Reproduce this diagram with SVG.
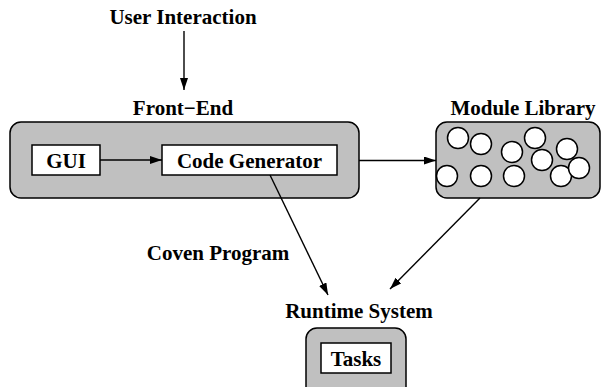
<svg xmlns="http://www.w3.org/2000/svg" width="602" height="387" viewBox="0 0 602 387">
<defs>
<marker id="ah" viewBox="0 0 12 8" refX="12" refY="4" markerWidth="12" markerHeight="8" markerUnits="userSpaceOnUse" orient="auto">
<path d="M0,0 L12,4 L0,8 Z" fill="#000"/>
</marker>
<style>
.lbl{font-family:"Liberation Serif","Times New Roman",serif;font-weight:bold;font-size:21px;fill:#000;text-anchor:middle}
.grp{fill:#c0c0c0;stroke:#000;stroke-width:1.5}
.box{fill:#fff;stroke:#000;stroke-width:1.5}
.mod{fill:#fff;stroke:#000;stroke-width:1.5}
.edge{fill:none;stroke:#000;stroke-width:1.4;marker-end:url(#ah)}
</style>
</defs>
<rect width="602" height="387" fill="#fff"/>
<text class="lbl" x="183" y="24">User Interaction</text>
<g id="front-end">
<text class="lbl" x="183" y="115">Front−End</text>
<rect class="grp" x="10" y="122" width="349" height="76" rx="11"/>
</g>
<g id="gui">
<rect class="box" x="32" y="145" width="68" height="30"/>
<text class="lbl" x="66" y="168">GUI</text>
</g>
<g id="code-generator">
<rect class="box" x="162" y="145" width="175" height="30"/>
<text class="lbl" x="249.5" y="168">Code Generator</text>
</g>
<g id="module-library">
<text class="lbl" x="523" y="115">Module Library</text>
<rect class="grp" x="436" y="122" width="164" height="76" rx="11"/>
<circle class="mod" cx="458" cy="138" r="10.5"/>
<circle class="mod" cx="481" cy="144" r="10.5"/>
<circle class="mod" cx="512" cy="152" r="10.5"/>
<circle class="mod" cx="535" cy="138" r="10.5"/>
<circle class="mod" cx="542" cy="160" r="10.5"/>
<circle class="mod" cx="567" cy="149" r="10.5"/>
<circle class="mod" cx="561" cy="176" r="10.5"/>
<circle class="mod" cx="579" cy="168" r="10.5"/>
<circle class="mod" cx="447" cy="176" r="10.5"/>
<circle class="mod" cx="481" cy="176" r="10.5"/>
<circle class="mod" cx="514" cy="176" r="10.5"/>
</g>
<g id="runtime-system">
<text class="lbl" x="359" y="318">Runtime System</text>
<rect class="grp" x="306" y="328" width="100" height="70" rx="11"/>
</g>
<g id="tasks">
<rect class="box" x="321" y="343" width="70" height="30"/>
<text class="lbl" x="356" y="366">Tasks</text>
</g>
<g id="connectors">
<line class="edge" x1="184" y1="31" x2="184" y2="90"/>
<line class="edge" x1="100" y1="160" x2="162" y2="160"/>
<line class="edge" x1="359" y1="160.5" x2="436" y2="160.5"/>
<line class="edge" x1="270" y1="175" x2="328" y2="295"/>
<line class="edge" x1="480" y1="198" x2="390" y2="289"/>
<text class="lbl" x="218" y="260">Coven Program</text>
</g>
</svg>
